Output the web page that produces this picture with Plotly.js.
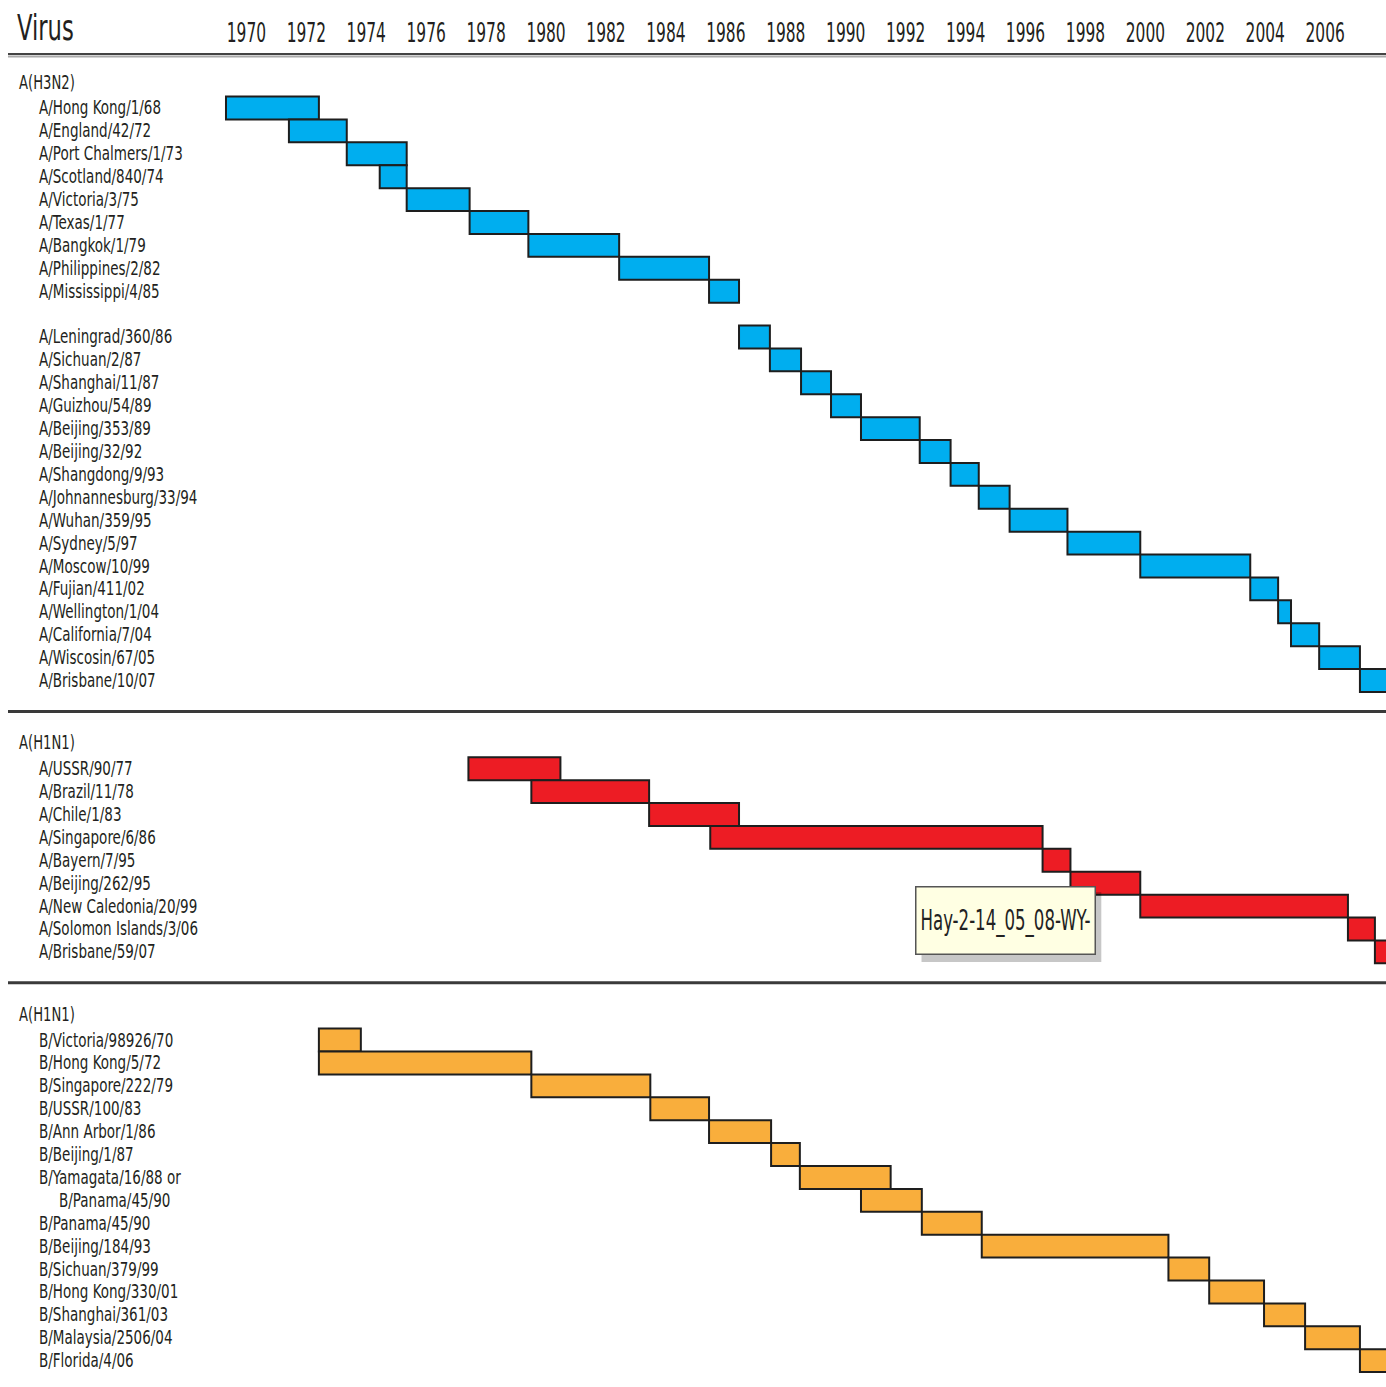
<!DOCTYPE html>
<html><head><meta charset="utf-8">
<script src="https://cdn.plot.ly/plotly-3.0.1.min.js"></script>
<style>html,body{margin:0;padding:0;background:#fff;}#chart{width:1386px;height:1387px;}</style>
</head><body><div id="chart"></div>
<script>
// ---------------- DATA ----------------
const headerTitle = "Virus";
const tickYears = [1970,1972,1974,1976,1978,1980,1982,1984,1986,1988,1990,1992,1994,1996,1998,2000,2002,2004,2006,2008];
const groupNames = ["A(H3N2)", "A(H1N1)", "A(H1N1)"];

// A(H3N2) ("" = blank row)
const h3n2Strains = ["A/Hong Kong/1/68","A/England/42/72","A/Port Chalmers/1/73","A/Scotland/840/74","A/Victoria/3/75","A/Texas/1/77","A/Bangkok/1/79","A/Philippines/2/82","A/Mississippi/4/85","",
  "A/Leningrad/360/86","A/Sichuan/2/87","A/Shanghai/11/87","A/Guizhou/54/89","A/Beijing/353/89","A/Beijing/32/92","A/Shangdong/9/93","A/Johnannesburg/33/94","A/Wuhan/359/95","A/Sydney/5/97","A/Moscow/10/99","A/Fujian/411/02","A/Wellington/1/04","A/California/7/04","A/Wiscosin/67/05","A/Brisbane/10/07"];
const h3n2Start = [1969.32,1971.42,1973.35,1974.45,1975.35,1977.45,1979.41,1982.44,1985.44,null,
  1986.44,1987.47,1988.51,1989.51,1990.51,1992.47,1993.50,1994.44,1995.47,1997.40,1999.83,2003.50,2004.43,2004.86,2005.80,2007.16];
const h3n2End = [1972.42,1973.35,1975.35,1975.35,1977.45,1979.41,1982.44,1985.44,1986.44,null,
  1987.47,1988.51,1989.51,1990.51,1992.47,1993.50,1994.44,1995.47,1997.40,1999.83,2003.50,2004.43,2004.86,2005.80,2007.16,2008.50];

// A(H1N1)
const h1n1Strains = ["A/USSR/90/77","A/Brazil/11/78","A/Chile/1/83","A/Singapore/6/86","A/Bayern/7/95","A/Beijing/262/95","A/New Caledonia/20/99","A/Solomon Islands/3/06","A/Brisbane/59/07"];
const h1n1Start = [1977.41,1979.51,1983.44,1985.48,1996.57,1997.50,1999.83,2006.76,2007.66];
const h1n1End = [1980.48,1983.44,1986.44,1996.57,1997.50,1999.83,2006.76,2007.66,2008.50];

// B
const bStrains = ["B/Victoria/98926/70","B/Hong Kong/5/72","B/Singapore/222/79","B/USSR/100/83","B/Ann Arbor/1/86","B/Beijing/1/87","B/Yamagata/16/88 or","B/Panama/45/90","B/Panama/45/90","B/Beijing/184/93","B/Sichuan/379/99","B/Hong Kong/330/01","B/Shanghai/361/03","B/Malaysia/2506/04","B/Florida/4/06"];
const bWrappedRow = 7; // second line of the "Yamagata or Panama" label
const bStart = [1972.42,1972.42,1979.51,1983.48,1985.44,1987.51,1988.47,1990.51,1992.54,1994.54,2000.77,2002.13,2003.96,2005.33,2007.16];
const bEnd = [1973.82,1979.51,1983.48,1985.44,1987.51,1988.47,1991.50,1992.54,1994.54,2000.77,2002.13,2003.96,2005.33,2007.16,2008.50];

const tooltipText = "Hay-2-14_05_08-WY-";

// ---------------- STYLE / LAYOUT ----------------
const FONT = "'Liberation Sans Narrow', 'DejaVu Sans Condensed', 'Arial Narrow', sans-serif";
const TXT = "#231f20";
const W = 1386, H = 1387, ML = 220, MT = 56;
const plotW = W - ML, plotH = H - MT;

const sections = [
  {name: groupNames[0], strains: h3n2Strains, start: h3n2Start, end: h3n2End, color: "#00aeef"},
  {name: groupNames[1], strains: h1n1Strains, start: h1n1Start, end: h1n1End, color: "#ed1c24"},
  {name: groupNames[2], strains: bStrains, start: bStart, end: bEnd, color: "#f9ae3c", wrapped: bWrappedRow}
];

const traces = [], annotations = [], shapes = [];
const pxX = px => (px - ML) / plotW;       // paper x from pixel
const pxY = py => (H - py) / plotH;        // paper y from pixel

let slot = 0;
sections.forEach((sec, si) => {
  let headerSlot;
  if (si === 0) { headerSlot = -1.15; slot = 0; }
  else {
    slot += 1.35;
    shapes.push({type: "line", xref: "paper", yref: "y", x0: pxX(8), x1: 1.01, y0: slot, y1: slot,
      line: {color: "#3a3a3a", width: 3}});
    slot += 1.35; headerSlot = slot; slot += 1.15;
  }
  annotations.push({xref: "paper", yref: "y", x: pxX(17), y: headerSlot, xanchor: "left", yanchor: "middle",
    text: sec.name, showarrow: false, font: {family: FONT, size: 19, color: TXT}});
  const ys = [], bases = [], lens = [];
  sec.strains.forEach((s, j) => {
    const y = slot + j;
    if (s !== "") {
      const indent = (sec.wrapped === j) ? 57 : 37;
      annotations.push({xref: "paper", yref: "y", x: pxX(indent), y: y, xanchor: "left", yanchor: "middle",
        text: s, showarrow: false, font: {family: FONT, size: 19.5, color: TXT}});
    }
    if (sec.start[j] !== null) {
      ys.push(y); bases.push(sec.start[j]); lens.push(sec.end[j] - sec.start[j]);
    }
  });
  slot = slot + sec.strains.length - 1;
  traces.push({type: "bar", orientation: "h", y: ys, base: bases, x: lens, width: 1,
    marker: {color: sec.color, line: {color: "#1e1e1e", width: 2}}, hoverinfo: "skip", showlegend: false});
});

// header
annotations.push({xref: "paper", yref: "paper", x: pxX(15), y: pxY(28), xanchor: "left", yanchor: "middle",
  text: headerTitle, showarrow: false, font: {family: FONT, size: 36, color: TXT}});
shapes.push({type: "line", xref: "paper", yref: "paper", x0: pxX(8), x1: 1.01, y0: pxY(54), y1: pxY(54),
  line: {color: "#444", width: 2}});
shapes.push({type: "line", xref: "paper", yref: "paper", x0: pxX(8), x1: 1.01, y0: pxY(56.5), y1: pxY(56.5),
  line: {color: "#aaa", width: 2}});

// tooltip note
shapes.push({type: "rect", xref: "x", yref: "y", x0: 1992.53, x1: 1998.53, y0: 34.24, y1: 37.29,
  fillcolor: "rgba(0,0,0,0.22)", line: {width: 0}, layer: "above"});
annotations.push({xref: "x", yref: "y", x: 1995.34, y: 35.46, xanchor: "center", yanchor: "middle",
  text: tooltipText, showarrow: false, width: 176, height: 64, bgcolor: "#ffffe3", bordercolor: "#555",
  borderwidth: 1.5, font: {family: FONT, size: 28, color: "#222"}});

const layout = {
  width: W, height: H, margin: {l: ML, r: 0, t: MT, b: 0},
  paper_bgcolor: "#fff", plot_bgcolor: "#fff", barmode: "overlay",
  xaxis: {side: "top", range: [1969.12, 2008.03], tickvals: tickYears, ticktext: tickYears.map(String),
    tickangle: 0, showgrid: false, zeroline: false, showline: false, ticks: "", ticklabelstandoff: 8,
    tickfont: {family: FONT, size: 26, color: TXT}, fixedrange: true},
  yaxis: {range: [55.85, -2.27], showticklabels: false, showgrid: false, zeroline: false, showline: false, ticks: "", fixedrange: true},
  annotations: annotations, shapes: shapes, showlegend: false
};

// condense glyphs horizontally to imitate the narrow typeface of the original
function condense(el, factor, target, keepLeft) {
  const len = el.getComputedTextLength();
  if (!len) return;
  const newLen = target ? target : len * factor;
  el.setAttribute("textLength", newLen);
  el.setAttribute("lengthAdjust", "spacingAndGlyphs");
  if (keepLeft) {
    const anchor = el.getAttribute("text-anchor") || getComputedStyle(el).textAnchor;
    const shift = anchor === "middle" ? (len - newLen) / 2 : (anchor === "end" ? (len - newLen) : 0);
    const x0 = parseFloat(el.getAttribute("x")) || 0;
    el.setAttribute("x", x0 - shift);
  }
}
Plotly.newPlot("chart", traces, layout, {displayModeBar: false, staticPlot: true}).then(gd => {
  gd.querySelectorAll("text.annotation-text").forEach(t => {
    const s = t.textContent;
    if (s === tooltipText) condense(t, 0, 170, false);
    else if (s === headerTitle) condense(t, 0.7, 0, true);
    else condense(t, 0.77, 0, true);
  });
  gd.querySelectorAll(".xtick text").forEach(t => condense(t, 0.66, 0, false));
});
</script></body></html>
